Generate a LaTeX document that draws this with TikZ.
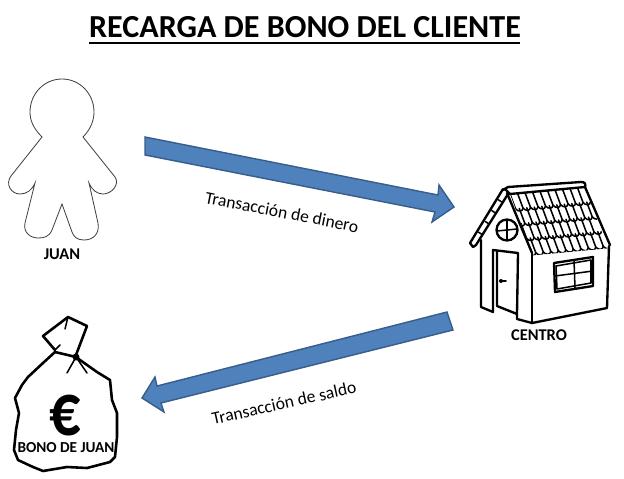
\documentclass[tikz,border=0pt]{standalone}
\usepackage{fontspec}
\setmainfont{Carlito}
\definecolor{arrowfill}{HTML}{4F81BD}
\definecolor{arrowline}{HTML}{385D8A}
\tikzset{
  x=0.03cm,y=-0.03cm,
  declare function={tilex(\s,\t)=510+75*\s+22*\t; tiley(\s,\t)=194-7*\s+59*\t;},
  blockarrow/.style={fill=arrowfill,draw=arrowline,line width=1.2pt,line join=miter},
  label/.style={font=\bfseries\fontsize{14}{16}\selectfont},
  arrowlabel/.style={font=\fontsize{15}{17}\selectfont},
  housethick/.style={line width=2pt,line join=round,line cap=round},
  housethin/.style={line width=1.3pt,line join=round,line cap=round},
  bagline/.style={line width=2.2pt,line join=round,line cap=round}
}
\begin{document}
\begin{tikzpicture}
\useasboundingbox (0,0) rectangle (624,478);
\fill[white] (0,0) rectangle (624,478);

% title
\node (title) at (305,27) {\bfseries\fontsize{27.4}{32}\selectfont RECARGA DE BONO DEL CLIENTE};
\draw[line width=1.7pt] (89,43) -- (520,43);

% person
\draw[line width=0.7pt,draw=black!75] (83,137) -- (115,177)
  .. controls (120,184) and (112,194) .. (103,194)
  .. controls (97,194) and (92,190) .. (89,183)
  -- (98,223)
  .. controls (100,235) and (92,240) .. (84,240)
  .. controls (77,240) and (74,237) .. (72,232)
  -- (62,204) -- (52,230)
  .. controls (49,237) and (44,238) .. (38,238)
  .. controls (30,238) and (23,232) .. (25,223)
  -- (35,183)
  .. controls (32,190) and (27,194) .. (20,194)
  .. controls (11,194) and (5,184) .. (11,176)
  -- (42,137)
  .. controls (33,128) and (30,120) .. (30,112)
  .. controls (30,94) and (44,79) .. (62,79)
  .. controls (80,79) and (94,94) .. (94,112)
  .. controls (94,120) and (91,129) .. (83,137)
  -- cycle;
\node[label] (juan) at (62,254) {JUAN};

% arrows
\draw[blockarrow] (145,137) -- (438,195) -- (439,185) -- (454,207)
  -- (432,222) -- (435,212) -- (145,155) -- cycle;
\node[rotate=-11,arrowlabel] (dinero) at (282,212) {Transacción de dinero};
\draw[blockarrow] (447,312) -- (157,386) -- (155,377) -- (142,398)
  -- (164,412) -- (161,403) -- (453,330) -- cycle;
\node[rotate=12.5,arrowlabel] (saldo) at (284,403) {Transacción de saldo};

% house roof
\begin{scope}
\clip ({tilex(0,0)},{tiley(0,0)}) -- ({tilex(1,0)},{tiley(1,0)})
  -- ({tilex(1,1.04)},{tiley(1,1.04)}) -- ({tilex(0,1.04)},{tiley(0,1.04)}) -- cycle;
\foreach \r in {0,1,2,3} {
  \pgfmathsetmacro{\ta}{\r/4}
  \pgfmathsetmacro{\tb}{(\r+1)/4}
  \pgfmathsetmacro{\shift}{mod(\r,2)*0.05}
  \foreach \c in {-1,0,...,9} {
    \pgfmathsetmacro{\sa}{\c/10+\shift}
    \pgfmathsetmacro{\sb}{(\c+1)/10+\shift}
    \draw[housethin] ({tilex(\sa,\ta)},{tiley(\sa,\ta)}) -- ({tilex(\sa,\tb)},{tiley(\sa,\tb)})
      .. controls ({tilex(\sa+0.02,\tb+0.06)},{tiley(\sa+0.02,\tb+0.06)})
      and ({tilex(\sb-0.02,\tb+0.06)},{tiley(\sb-0.02,\tb+0.06)})
      .. ({tilex(\sb,\tb)},{tiley(\sb,\tb)});
  }
}
\end{scope}
\draw[housethick] (503,190) -- (508,187) -- (581,182)
  .. controls (585,182) and (586,184) .. (585,187) -- (510,194) -- (505,189) -- cycle;
\draw[housethick] (585,187) -- (610,245);
\draw[housethick] (507,193) -- (532,253);

% house gable
\draw[housethick] (503,189) -- (470,243) -- (473,247) -- (476,245) -- (508,194);
\foreach \k in {1,2,3,4} {
  \draw[housethin] ({503-6.6*\k+2},{189+10.8*\k}) -- ({503-6.6*\k+5},{189+10.8*\k+2});
}

% house walls
\draw[housethick] (481,240) -- (481,307) -- (493,312);
\draw[housethick] (517,314) -- (517,319) -- (532,323) -- (607,308) -- (609,246);
\draw[housethick] (532,253) -- (532,323);

% house door
\draw[housethick] (493,312) -- (493,250) -- (518,253) -- (517,314) -- (497,306) -- (497,252);
\draw[housethin] (500,281) -- (506,281);
\fill (501,281) circle (2);

% house round window
\draw[housethick] (507,230) circle (10.5);
\draw[housethin] (497,231) -- (517,229) (507,220) -- (507,240);

% house window
\draw[housethick] (554,263) -- (593,257) -- (593,286) -- (555,292) -- cycle;
\draw[housethin] (556,266) -- (591,260) -- (591,283) -- (557,289) -- cycle;
\draw[housethin] (574,260) -- (575,288) (555,276) -- (593,271);
\node[label] (centro) at (539,335) {CENTRO};

% bag
\draw[bagline] (76,357) -- (55,352) -- (43,363) -- (28,377) -- (22,385) -- (15,398)
  -- (19,413) -- (16,430) -- (14,450) -- (18,460) -- (33,467) -- (43,471) -- (67,467)
  -- (87,468) -- (110,462) -- (115,457) -- (117,437) -- (117,413) -- (112,400)
  -- (110,380) -- (97,372) -- (80,360) -- cycle;
\draw[bagline] (55,350) -- (43,336) -- (68,317) -- (87,326) -- (76,355);
\draw[housethin] (68,317) -- (65,329) (55,350) -- (60,345);
\fill (76,357) circle (3.5);
\draw[housethin] (76,357) -- (67,373) (76,357) -- (87,373);
\node[inner sep=0pt,font=\bfseries\fontsize{53}{60}\selectfont] (euro) at (65,416) {\scalebox{1}[1.2]{€}};
\node[font=\bfseries\fontsize{13}{15}\selectfont,inner sep=0pt] (bono) at (66,448) {BONO DE JUAN};
\end{tikzpicture}
\end{document}
